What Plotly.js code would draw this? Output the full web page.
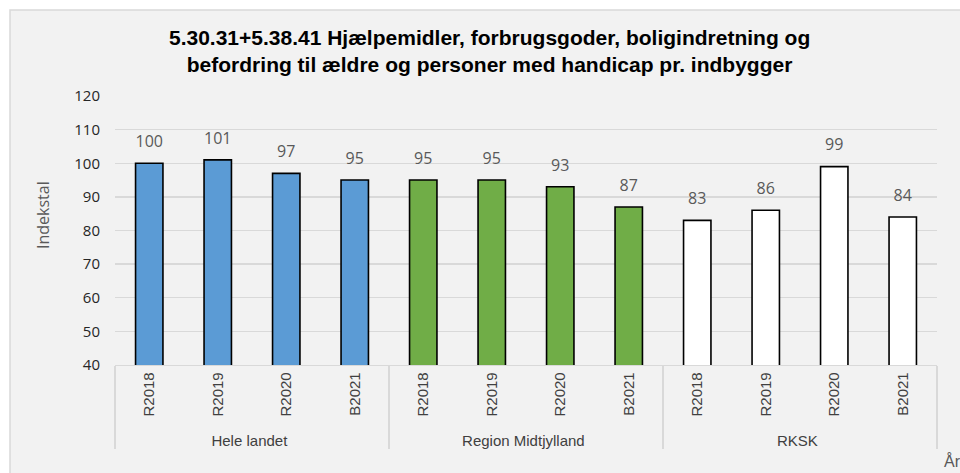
<!DOCTYPE html>
<html>
<head>
<meta charset="utf-8">
<script src="https://cdn.plot.ly/plotly-3.0.1.min.js"></script>
<style>html,body{margin:0;padding:0;background:#fff;}</style>
</head>
<body>
<div id="chart" style="width:960px;height:473px;"></div>
<script>
const groups = ["Hele landet", "Region Midtjylland", "RKSK"];
const periods = ["R2018", "R2019", "R2020", "B2021"];
const heleLandet = [100, 101, 97, 95];
const regionMidt = [95, 95, 93, 87];
const rksk = [83, 86, 99, 84];
const colors = ["#5B9BD5", "#70AD47", "#FFFFFF"];
const yTicks = [40, 50, 60, 70, 80, 90, 100, 110, 120];

const series = [heleLandet, regionMidt, rksk];
const traces = [];
series.forEach((vals, gi) => {
  const xs = [periods.map(() => groups[gi]), periods];
  traces.push({
    type: "bar",
    x: xs,
    y: vals,
    width: 0.4,
    marker: {color: colors[gi], line: {color: "#000000", width: 1.6}},
    showlegend: false,
    hoverinfo: "x+y"
  });
});
series.forEach((vals, gi) => {
  const xs = [periods.map(() => groups[gi]), periods];
  traces.push({
    type: "scatter",
    mode: "markers+text",
    x: xs,
    y: vals,
    marker: {size: 18, color: "rgba(0,0,0,0)"},
    text: vals.map(v => String(v)),
    textposition: "top center",
    textfont: {family: "Open Sans, Liberation Sans, sans-serif", size: 16, color: "#595959"},
    cliponaxis: false,
    showlegend: false,
    hoverinfo: "skip"
  });
});

// pixel helpers for the decorative frame (paper coords)
const L = 115, R = 937, T = 96, B = 365;
const px = p => (p - L) / (R - L);
const py = p => (B - p) / (B - T);

const layout = {
  width: 960, height: 473,
  margin: {l: L, r: 960 - R, t: T, b: 473 - B},
  paper_bgcolor: "#FFFFFF",
  plot_bgcolor: "rgba(0,0,0,0)",
  barmode: "overlay",
  title: {
    text: "<b>5.30.31+5.38.41 Hjælpemidler, forbrugsgoder, boligindretning og<br>befordring til ældre og personer med handicap pr. indbygger</b>",
    font: {family: "Liberation Sans, Arial, sans-serif", size: 21, color: "#000000"},
    x: 0.51, xanchor: "center", y: 0.905, yanchor: "middle"
  },
  yaxis: {
    range: [40, 120],
    tickvals: yTicks,
    ticktext: yTicks.map(String),
    showgrid: true, gridcolor: "#D9D9D9", gridwidth: 1.3,
    zeroline: false, showline: false,
    ticks: "", ticklabelstandoff: 14,
    tickfont: {family: "Open Sans, Liberation Sans, sans-serif", size: 15, color: "#262626"},
    fixedrange: true
  },
  xaxis: {
    type: "multicategory",
    range: [-0.5, 11.5],
    tickangle: -90,
    showline: true, linecolor: "#D9D9D9", linewidth: 1.3,
    showdividers: true, dividercolor: "#D9D9D9", dividerwidth: 1.3,
    ticks: "outside", ticklen: 9, tickcolor: "rgba(0,0,0,0)",
    tickfont: {family: "Liberation Sans, Arial, sans-serif", size: 15, color: "#404040"},
    fixedrange: true
  },
  shapes: [
    {type: "rect", xref: "paper", yref: "paper", layer: "below",
     x0: px(10), x1: px(965), y0: py(478), y1: py(10),
     fillcolor: "#F2F2F2", line: {color: "#D9D9D9", width: 1.5}}
  ],
  annotations: [
    {text: "Indekstal", xref: "paper", yref: "paper", x: px(43), y: py(215),
     xanchor: "center", yanchor: "middle", textangle: -90, showarrow: false,
     font: {family: "Open Sans, Liberation Sans, sans-serif", size: 16, color: "#595959"}},
    {text: "År", xref: "paper", yref: "paper", x: px(942), y: py(461),
     xanchor: "left", yanchor: "middle", showarrow: false,
     font: {family: "Liberation Sans, Arial, sans-serif", size: 16, color: "#595959"}}
  ]
};

Plotly.newPlot("chart", traces, layout, {displayModeBar: false, staticPlot: true});
</script>
</body>
</html>
